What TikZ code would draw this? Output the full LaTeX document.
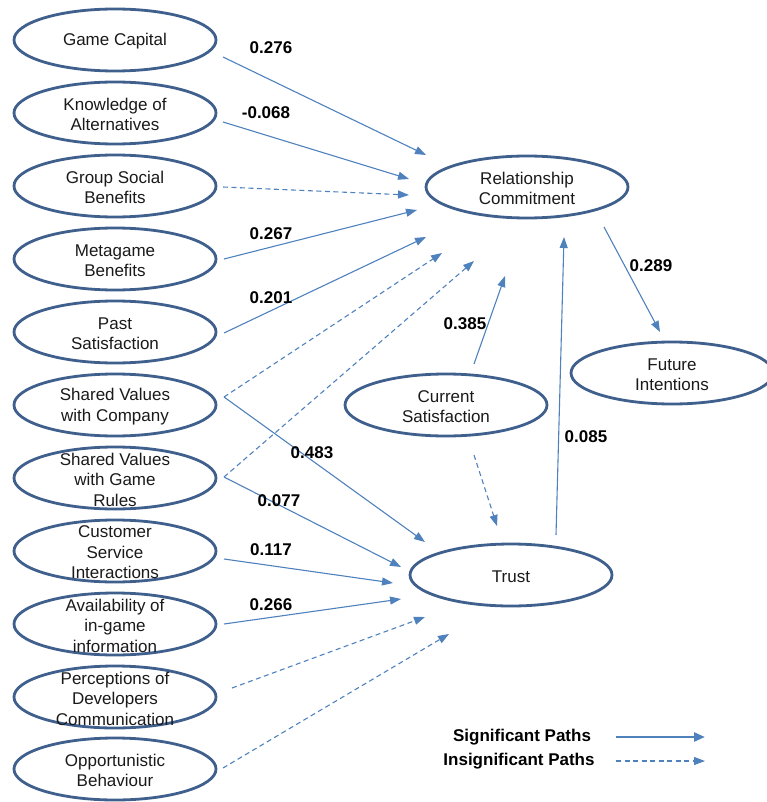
\documentclass[tikz,border=0pt]{standalone}
\usepackage{fontspec}
\setmainfont{Liberation Sans}
\usetikzlibrary{arrows.meta,shapes.geometric}
\definecolor{ovalblue}{HTML}{3F5F8C}
\definecolor{pathblue}{HTML}{4F81BD}
\definecolor{inktext}{HTML}{1A1A1A}

\tikzset{
  oval/.style={ellipse, draw=ovalblue, line width=2.8pt, minimum width=202pt,
    minimum height=62pt, inner sep=0pt, fill=white},
  ovaltext/.style={align=center, font=\fontsize{17}{20.5}\selectfont, text=inktext,
    inner sep=0pt, yshift=-1.5pt},
  coef/.style={font=\bfseries\fontsize{17}{20}\selectfont, inner sep=0pt},
  legendtext/.style={font=\bfseries\fontsize{17}{20}\selectfont, inner sep=0pt},
  sig/.style={draw=pathblue, line width=1.1pt, -{Triangle[length=11pt,width=8pt]}},
  insig/.style={sig, dash pattern=on 5pt off 3.5pt},
}

% construct: name, position, caption
\newcommand\construct[3]{%
  \node[oval] (#1) at (#2) {};
  \node[ovaltext] (#1-t) at (#1) {#3};}

\begin{document}
\begin{tikzpicture}[x=1pt, y=-1pt]
\useasboundingbox (0,0) rectangle (766,802);

% exogenous constructs
\construct{gc}{115,40}{Game Capital}
\construct{ka}{115,113}{Knowledge of\\Alternatives}
\construct{gs}{115,186}{Group Social\\Benefits}
\construct{mb}{115,259}{Metagame\\Benefits}
\construct{ps}{115,332}{Past\\Satisfaction}
\construct{svc}{115,405}{Shared Values\\with Company}
\construct{svg}{115,478}{Shared Values\\with Game\\Rules}
\construct{csi}{115,551}{Customer\\Service\\Interactions}
\construct{ai}{115,624}{Availability of\\in-game\\information}
\construct{pdc}{115,697}{Perceptions of\\Developers\\Communication}
\construct{ob}{115,769}{Opportunistic\\Behaviour}

% endogenous constructs
\construct{rc}{527,187}{Relationship\\Commitment}
\construct{fi}{672,373}{Future\\Intentions}
\construct{cs}{446,405}{Current\\Satisfaction}
\construct{tr}{511,575}{Trust}

% path end points
\coordinate (gc-o) at (223,57);   \coordinate (gc-i) at (426,155);
\coordinate (ka-o) at (223,122);  \coordinate (ka-i) at (409,179);
\coordinate (gs-o) at (223,187);  \coordinate (gs-i) at (409,195);
\coordinate (mb-o) at (224,259);  \coordinate (mb-i) at (417,210);
\coordinate (ps-o) at (224,333);  \coordinate (ps-i) at (426,237);
\coordinate (svc-o) at (224,397); \coordinate (svc-i) at (442,253);
\coordinate (svg-o) at (224,477); \coordinate (svg-i) at (474,261);
\coordinate (svc-t) at (425,542);
\coordinate (svg-t) at (401,567);
\coordinate (csi-o) at (224,559); \coordinate (csi-i) at (393,583);
\coordinate (ai-o) at (224,624);  \coordinate (ai-i) at (401,599);
\coordinate (pdc-o) at (232,688); \coordinate (pdc-i) at (425,617);
\coordinate (ob-o) at (223,768);  \coordinate (ob-i) at (449,634);
\coordinate (cs-up) at (474,364); \coordinate (cs-rc) at (505,276);
\coordinate (cs-dn) at (474,455); \coordinate (cs-tr) at (497,526);
\coordinate (tr-up) at (556,535); \coordinate (tr-rc) at (564,237);
\coordinate (rc-dn) at (604,227); \coordinate (rc-fi) at (660,332);

% paths into relationship commitment
\draw[sig] (gc-o) -- (gc-i);
\draw[sig] (ka-o) -- (ka-i);
\draw[insig] (gs-o) -- (gs-i);
\draw[sig] (mb-o) -- (mb-i);
\draw[sig] (ps-o) -- (ps-i);
\draw[insig] (svc-o) -- (svc-i);
\draw[insig] (svg-o) -- (svg-i);
\draw[sig] (cs-up) -- (cs-rc);
\draw[sig] (tr-up) -- (tr-rc);

% paths into trust
\draw[sig] (svc-o) -- (svc-t);
\draw[sig] (svg-o) -- (svg-t);
\draw[sig] (csi-o) -- (csi-i);
\draw[sig] (ai-o) -- (ai-i);
\draw[insig] (pdc-o) -- (pdc-i);
\draw[insig] (ob-o) -- (ob-i);
\draw[insig] (cs-dn) -- (cs-tr);

% outcome
\draw[sig] (rc-dn) -- (rc-fi);

% path coefficients
\node[coef] (c-gc) at (271,48) {0.276};
\node[coef] (c-ka) at (266,113) {-0.068};
\node[coef] (c-mb) at (271,234) {0.267};
\node[coef] (c-ps) at (271,298) {0.201};
\node[coef] (c-svc) at (312,453) {0.483};
\node[coef] (c-svg) at (279,501) {0.077};
\node[coef] (c-csi) at (271,550) {0.117};
\node[coef] (c-ai) at (271,605) {0.266};
\node[coef] (c-cs) at (465,324) {0.385};
\node[coef] (c-tr) at (586,437) {0.085};
\node[coef] (c-rc) at (651,266) {0.289};

% legend
\node[legendtext] (lg-s) at (522,737) {Significant Paths};
\node[legendtext] (lg-i) at (519,761) {Insignificant Paths};
\coordinate (lg-s-a) at (616,737); \coordinate (lg-s-b) at (705,737);
\coordinate (lg-i-a) at (616,761); \coordinate (lg-i-b) at (705,761);
\draw[sig, line width=2.6pt, -{Triangle[length=11pt,width=9pt]}] (lg-s-a) -- (lg-s-b);
\draw[insig] (lg-i-a) -- (lg-i-b);
\end{tikzpicture}
\end{document}
